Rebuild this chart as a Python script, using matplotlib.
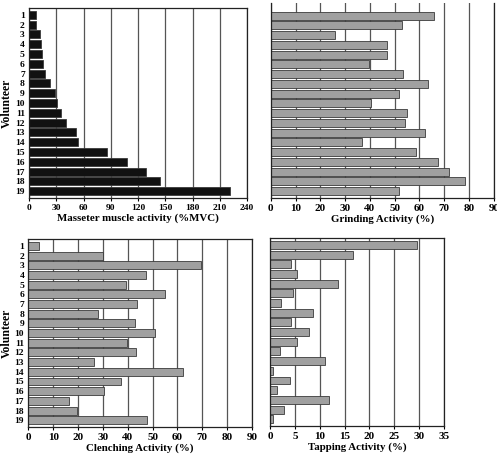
import numpy as np
import matplotlib.pyplot as plt

plt.rcParams['font.family'] = ['Liberation Serif', 'DejaVu Serif']
plt.rcParams['font.weight'] = 'bold'

volunteers = [str(i) for i in range(1, 20)]

masseter = [7.7, 7.7, 12.1, 13.2, 14.7, 15.4, 17.6, 22.8, 28.6, 30.5,
            34.9, 40.4, 51.4, 54.3, 85.9, 107.5, 129.2, 144.2, 220.9]
grinding = [65.9, 53.1, 26.0, 46.7, 46.8, 39.7, 53.5, 63.4, 51.9, 40.6,
            55.1, 54.2, 62.1, 37.0, 58.7, 67.3, 71.8, 78.2, 51.8]
clenching = [4.3, 30.2, 69.4, 47.2, 39.2, 54.8, 43.7, 28.0, 43.1, 51.1,
             39.7, 43.5, 26.5, 62.1, 37.1, 30.5, 16.3, 19.5, 47.6]
tapping = [29.6, 16.7, 4.2, 5.4, 13.6, 4.6, 2.3, 8.6, 4.3, 7.8,
           5.4, 2.1, 11.0, 0.7, 4.1, 1.5, 11.8, 2.9, 0.7]

fig = plt.figure(figsize=(4.97, 4.55), dpi=100)

# [left, bottom, width, height], values, colour, xmax, step, label, y labels, ylim top, tick size
panels = [
    ([0.0584, 0.5648, 0.439, 0.4176], masseter, '#111111', 240, 30,
     'Masseter muscle activity (%MVC)', True, 0.3, 6.8),
    ([0.5447, 0.5648, 0.449, 0.4286], grinding, '#a0a0a0', 90, 10,
     'Grinding Activity (%)', False, -0.3, 8),
    ([0.0570, 0.0615, 0.450, 0.4130], clenching, '#a0a0a0', 90, 10,
     'Clenching Activity (%)', True, 0.3, 8),
    ([0.5433, 0.0637, 0.350, 0.4130], tapping, '#a0a0a0', 35, 5,
     'Tapping Activity (%)', False, 0.3, 8),
]

y = np.arange(1, 20)
for i, (pos, vals, col, xmax, step, lab, showy, ytop, tsize) in enumerate(panels):
    ax = fig.add_axes(pos)
    ax.barh(y, vals, height=0.82, color=col, edgecolor='#3a3a3a', linewidth=0.6, zorder=2)
    ax.set_xlim(0, xmax)
    ax.set_ylim(19.7, ytop)
    ax.set_xticks(np.arange(0, xmax + 1, step))
    ax.grid(axis='x', color='#555555', linewidth=0.9, zorder=0)
    ax.set_axisbelow(True)
    ax.tick_params(axis='x', labelsize=tsize, length=2.5, width=0.8, direction='out', pad=2)
    ax.tick_params(axis='y', length=0, labelsize=6.8, pad=3)
    for lb in ax.get_xticklabels() + ax.get_yticklabels():
        lb.set_fontweight('bold')
    ax.set_xlabel(lab, fontsize=7.8, fontweight='bold', labelpad=1)
    if showy:
        ax.set_yticks(y)
        ax.set_yticklabels(volunteers)
        ax.set_ylabel('Volunteer', fontsize=8.5, fontweight='bold', labelpad=1.5)
    else:
        ax.set_yticks([])
    for s in ax.spines.values():
        s.set_color('#222222')
        s.set_linewidth(0.9)
    if i == 1:
        ax.spines['top'].set_visible(False)

fig.savefig('out.png', dpi=100)
